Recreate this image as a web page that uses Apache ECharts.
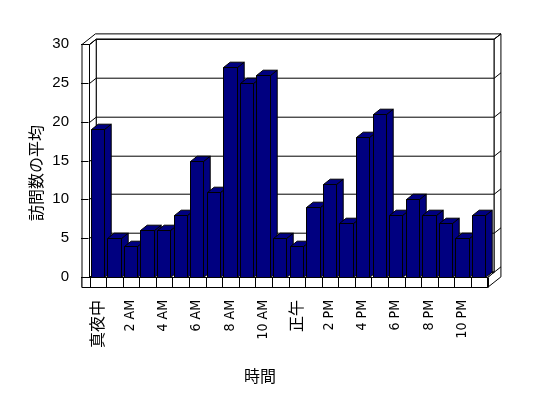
<!DOCTYPE html>
<html><head><meta charset="utf-8">
<script src="https://cdn.jsdelivr.net/npm/echarts@6/dist/echarts.min.js"></script>
<style>html,body{margin:0;padding:0;background:#fff}#c{width:548px;height:398px}</style>
</head><body><div id="c"></div>
<script>
const categories = ['真夜中','1 AM','2 AM','3 AM','4 AM','5 AM','6 AM','7 AM','8 AM','9 AM','10 AM','11 AM',
  '正午','1 PM','2 PM','3 PM','4 PM','5 PM','6 PM','7 PM','8 PM','9 PM','10 PM','11 PM'];
const visits = [19,5,4,6,6,8,15,11,27,25,26,5,4,9,12,7,18,21,8,10,8,7,5,8];
const yMin = 0, yMax = 30, yStep = 5;
const yTitle = '訪問数の平均';
const xTitle = '時間';

const DXR = 0.405, DYR = 0.32; // depth as fraction of band
const WALL = 7.5, FLOOR = 10;
const line = (x1,y1,x2,y2) => ({type:'line', shape:{x1,y1,x2,y2}, style:{stroke:'#000', lineWidth:1}, silent:true});
const poly = (pts, fill) => ({type:'polygon', shape:{points:pts}, style:{fill, stroke:'#000', lineWidth:1}, silent:true});
const r = v => Math.round(v) + 0.5;

function renderFrame(params, api) {
  const band = api.size([1,0])[0];
  const Dx = band*DXR, Dy = band*DYR;
  const L = r(api.coord([0,yMin])[0] - band/2);
  const R = r(api.coord([categories.length-1,yMin])[0] + band/2);
  const B = r(api.coord([0,yMin])[1]);
  const T = r(api.coord([0,yMax])[1]);
  const W = WALL, F = FLOOR;
  const ch = [];
  ch.push(poly([[L+Dx,T-Dy],[R+Dx,T-Dy],[R+Dx,B-Dy],[L+Dx,B-Dy]], '#fff'));
  ch.push(poly([[L,T],[L+Dx,T-Dy],[L+Dx,B-Dy],[L,B]], '#fff'));
  ch.push(poly([[L-W,T],[L,T],[L+Dx,T-Dy],[R+Dx,T-Dy],[R+2*Dx,T-2*Dy],[L-W+2*Dx,T-2*Dy]], '#fff'));
  ch.push(poly([[R+Dx,T-Dy],[R+2*Dx,T-2*Dy],[R+2*Dx,B+F-2*Dy],[R,B+F],[R,B],[R+Dx,B-Dy]], '#fff'));
  ch.push(poly([[L,B],[R,B],[R+Dx,B-Dy],[L+Dx,B-Dy]], '#fff'));
  ch.push(poly([[L-W,T],[L,T],[L,B+F],[L-W,B+F]], '#fff'));
  ch.push(poly([[L-W,B],[R,B],[R,B+F],[L-W,B+F]], '#fff'));
  for (let v = yMin; v <= yMax; v += yStep) {
    const y = r(api.coord([0,v])[1]);
    ch.push(line(L+Dx, y-Dy, R+Dx, y-Dy));
    ch.push(line(L, y, L+Dx, y-Dy));
    ch.push(line(R+Dx, y-Dy, R+2*Dx, y-2*Dy));
    ch.push(line(L-W-1, y, L-1, y));
  }
  for (let i = 0; i <= categories.length; i++) {
    const x = r(L + i*band);
    ch.push(line(x, B, x, B+F));
  }
  return {type:'group', children: ch};
}

function renderBar(params, api) {
  const band = api.size([1,0])[0];
  const Dx = band*DXR, Dy = band*DYR;
  const c = api.coord([api.value(0), api.value(1)]);
  const b = api.coord([api.value(0), yMin]);
  const w = band*0.8;
  const x0 = Math.round(c[0]-w/2)+0.5, x1 = Math.round(c[0]+w/2)+0.5;
  const yt = Math.round(c[1])+0.5, yb = Math.round(b[1])+0.5;
  const col = '#000080';
  return {type:'group', children:[
    poly([[x1,yt],[x1+Dx,yt-Dy],[x1+Dx,yb-Dy],[x1,yb]], col),
    poly([[x0,yt],[x1,yt],[x1+Dx,yt-Dy],[x0+Dx,yt-Dy]], col),
    poly([[x0,yt],[x1,yt],[x1,yb],[x0,yb]], col)
  ]};
}

const LAT = '"Liberation Sans Narrow", "DejaVu Sans Condensed", "Liberation Sans", sans-serif';
const chart = echarts.init(document.getElementById('c'), null, {renderer:'canvas'});
chart.setOption({
  animation: false,
  backgroundColor: '#fff',
  grid: {left: 89, right: 61, top: 44, bottom: 121, containLabel: false},
  xAxis: {
    type: 'category', data: categories,
    axisLine: {show: false}, axisTick: {show: false},
    axisLabel: {
      interval: 1, rotate: 90, margin: 23, color: '#000',
      formatter: v => /[A-Za-z0-9]/.test(v) ? '{lat|' + v + '}' : '{cjk|' + v + '}',
      rich: {
        lat: {fontFamily: LAT, fontSize: 14, color: '#000'},
        cjk: {fontFamily: '"Noto Sans CJK JP"', fontSize: 16, color: '#000'}
      }
    }
  },
  yAxis: {
    type: 'value', min: yMin, max: yMax, interval: yStep,
    axisLine: {show: false}, axisTick: {show: false}, splitLine: {show: false},
    axisLabel: {margin: 20, color: '#000', fontFamily: '"Liberation Sans", sans-serif', fontSize: 15}
  },
  graphic: [
    {type: 'text', x: 36, y: 173, rotation: Math.PI/2,
     style: {text: yTitle, font: '16px "Noto Sans CJK JP"', fill: '#000', align: 'center', verticalAlign: 'middle'}},
    {type: 'text', x: 260, y: 376,
     style: {text: xTitle, font: '16px "Noto Sans CJK JP"', fill: '#000', align: 'center', verticalAlign: 'middle'}}
  ],
  series: [
    {type: 'custom', z: 1, renderItem: renderFrame, data: [[0, 0]], clip: false, silent: true},
    {type: 'custom', z: 2, renderItem: renderBar, encode: {x: 0, y: 1},
     data: visits.map((v, i) => [i, v]), clip: false}
  ]
});
</script></body></html>
